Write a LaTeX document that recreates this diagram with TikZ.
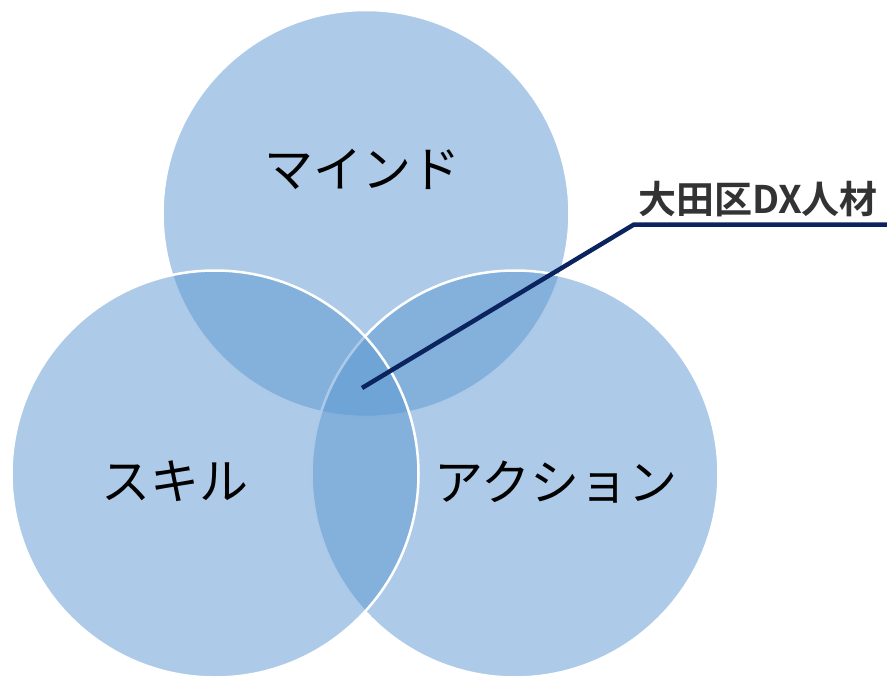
\documentclass[tikz,border=0pt]{standalone}
\usepackage{fontspec}
\newfontfamily\jp{Noto Sans CJK JP}
\newfontfamily\jpb{Noto Sans CJK JP Bold}
\definecolor{venn}{HTML}{5B97D1}
\definecolor{navy}{HTML}{0B2460}
\definecolor{lbl}{HTML}{333333}
\begin{document}
\begin{tikzpicture}[x=1pt,y=-1pt,
  vcircle/.style={circle, inner sep=0pt, minimum size=407pt, fill=venn, fill opacity=0.5, draw=white, draw opacity=1, line width=2.5pt},
  vtext/.style={font=\jp\fontsize{49}{58}\selectfont, text=black, inner sep=0pt},
  ltext/.style={font=\jpb\fontsize{38}{44}\selectfont, text=lbl, inner sep=0pt},
  leader/.style={draw=navy, line width=4.5pt}]
\useasboundingbox (0,0) rectangle (887,677);
\node[vcircle] (mind) at (366,213.5) {};
\node[vcircle] (action) at (515,474) {};
\node[vcircle] (skill) at (215,474) {};
\node[vtext] (tmind) at (362,169) {マインド};
\node[vtext] (tskill) at (175,481) {スキル};
\node[vtext] (taction) at (556,482) {アクション};
\coordinate (tip) at (362,388);
\coordinate (bend) at (634,224.5);
\coordinate (end) at (887,224.5);
\node[ltext] (label) at (758,199) {大田区DX人材};
\draw[leader] (tip) -- (bend) -- (end);
\end{tikzpicture}
\end{document}
